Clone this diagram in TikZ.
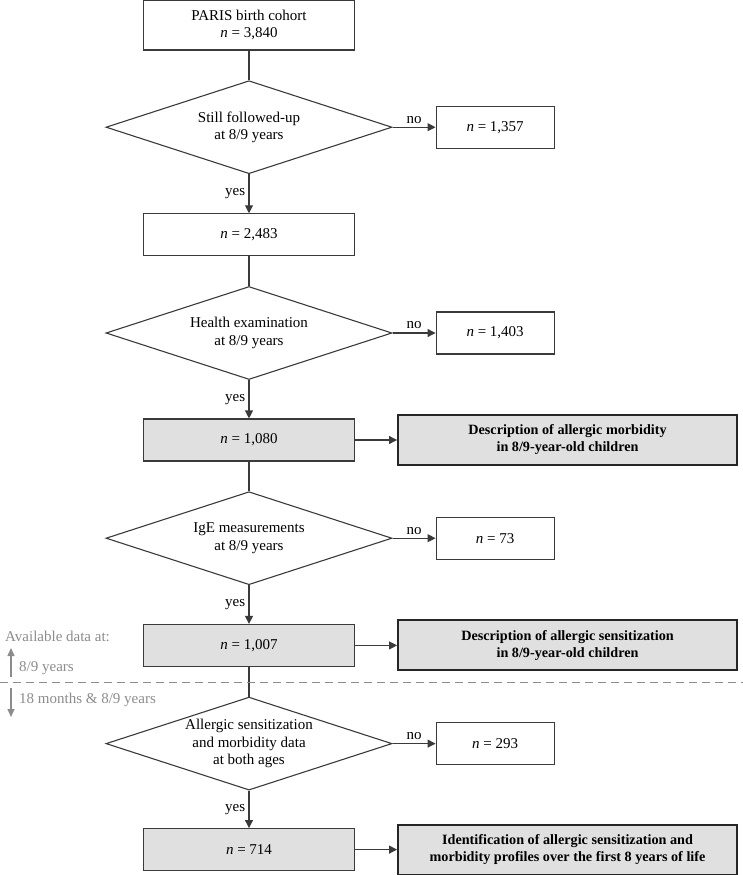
\documentclass[tikz,border=0pt]{standalone}
\usepackage{fontspec}
\setmainfont{Liberation Serif}
\usepackage{tikz}
\usetikzlibrary{arrows.meta}
\usetikzlibrary{shapes}
\usetikzlibrary{positioning}
\definecolor{edge}{HTML}{3A3A3A}
\definecolor{shade}{HTML}{E0E0E0}
\definecolor{note}{HTML}{8C8C8C}
\tikzstyle{stage}=[draw=edge,line width=1.1pt,minimum width=211pt,minimum height=42pt,inner sep=2pt,align=center]
\tikzstyle{kept}=[stage,fill=shade]
\tikzstyle{test}=[draw=edge,line width=1.1pt,diamond,aspect=3.07,minimum width=286pt,minimum height=93pt,inner sep=0pt,align=center]
\tikzstyle{lost}=[draw=edge,line width=1.1pt,minimum width=118pt,minimum height=42pt,align=center]
\tikzstyle{outcome}=[draw=black!85,line width=2pt,fill=shade,minimum width=339pt,minimum height=50pt,align=center,font=\fontsize{14.2}{17}\selectfont\bfseries]
\tikzstyle{flow}=[draw=edge,line width=1.1pt,-{Triangle[length=8pt,width=8pt]}]
\tikzstyle{link}=[draw=edge,line width=1.1pt]
\tikzstyle{remark}=[text=note,inner sep=0pt,anchor=base west]

\begin{document}
\begin{tikzpicture}[x=1pt,y=-1pt,font=\fontsize{15}{17.5}\selectfont]
\useasboundingbox (0,0) rectangle (743,875);
    % main column
    \node [stage] (r) at (249,25) [minimum height=50pt] {PARIS birth cohort\\\textit{n} = 3,840};
    \node [test,below=29.6pt of r] (d1) {Still followed-up\\at 8/9 years};
    \node [stage,below=39pt of d1] (b2) {\textit{n} = 2,483};
    \node [test,below=29.6pt of b2] (d2) {Health examination\\at 8/9 years};
    \node [kept,below=38.4pt of d2] (b3) {\textit{n} = 1,080};
    \node [test,below=29.6pt of b3] (d3) {IgE measurements\\at 8/9 years};
    \node [kept,below=38.6pt of d3] (b4) {\textit{n} = 1,007};
    \node [test,below=29.6pt of b4] (d4) {Allergic sensitization\\and morbidity data\\at both ages};
    \node [kept,below=37.4pt of d4] (b5) {\textit{n} = 714};

    % excluded
    \node [lost,right=43pt of d1] (x1) {\textit{n} = 1,357};
    \node [lost,right=43pt of d2] (x2) {\textit{n} = 1,403};
    \node [lost,right=43pt of d3] (x3) {\textit{n} = 73};
    \node [lost,right=43pt of d4] (x4) {\textit{n} = 293};

    % analyses
    \node [outcome,right=42pt of b3] (o1) {Description of allergic morbidity\\in 8/9-year-old children};
    \node [outcome,right=42pt of b4] (o2) {Description of allergic sensitization\\in 8/9-year-old children};
    \node [outcome,right=42pt of b5] (o3) {Identification of allergic sensitization and\\morbidity profiles over the first 8 years of life};

    \draw [link] (r) -- (d1);
    \draw [link] (b2) -- (d2);
    \draw [link] (b3) -- (d3);
    \draw [link] (b4) -- (d4);
    \draw [flow] (d1) -- node[left] (y1) {yes} (b2);
    \draw [flow] (d2) -- node[left] (y2) {yes} (b3);
    \draw [flow] (d3) -- node[left] (y3) {yes} (b4);
    \draw [flow] (d4) -- node[left] (y4) {yes} (b5);
    \draw [flow] (d1) -- node[above] (n1) {no} (x1);
    \draw [flow] (d2) -- node[above] (n2) {no} (x2);
    \draw [flow] (d3) -- node[above] (n3) {no} (x3);
    \draw [flow] (d4) -- node[above] (n4) {no} (x4);
    \draw [flow] (b3) -- (o1);
    \draw [flow] (b4) -- (o2);
    \draw [flow] (b5) -- (o3);

    % time split
    \coordinate (cl) at (0,682);
    \coordinate (cr) at (743,682);
    \draw [note,line width=1pt,dash pattern=on 8pt off 5pt] (cl) -- (cr);
    \node [remark] (av) at (5,641) {Available data at:};
    \node [remark] (t1) at (19,671) {8/9 years};
    \node [remark] (t2) at (19,703) {18 months \& 8/9 years};
    \coordinate (u0) at (11,677);
    \coordinate (u1) at (11,648);
    \coordinate (w0) at (11,688);
    \coordinate (w1) at (11,717);
    \draw [note,line width=1.1pt,-{Triangle[length=8pt,width=7pt]}] (u0) -- (u1);
    \draw [note,line width=1.1pt,-{Triangle[length=8pt,width=7pt]}] (w0) -- (w1);
\end{tikzpicture}
\end{document}
